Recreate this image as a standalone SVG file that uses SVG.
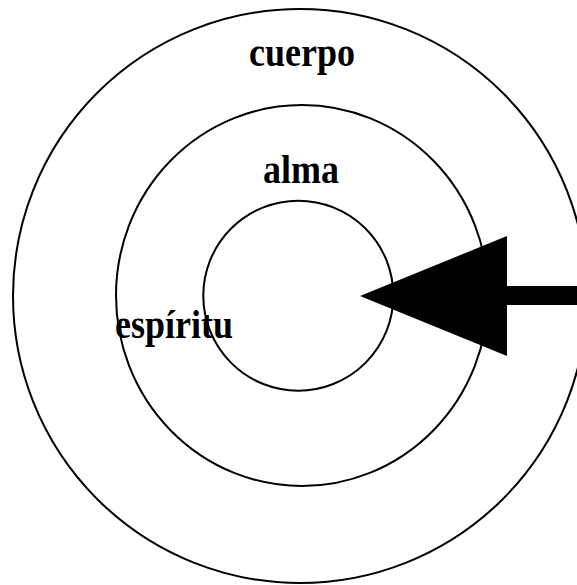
<svg xmlns="http://www.w3.org/2000/svg" width="577" height="585" viewBox="0 0 577 585">
<style>
.ring{fill:none;stroke:#000;stroke-width:2}
.lbl{font-family:"Liberation Serif","Times New Roman",serif;font-weight:bold;font-size:36px;fill:#000}
</style>
<rect width="577" height="585" fill="#fff"/>
<g id="cuerpo">
<circle class="ring" cx="300" cy="296" r="287"/>
<text class="lbl" transform="translate(302,66) scale(1,1.1)" text-anchor="middle">cuerpo</text>
</g>
<g id="alma">
<ellipse class="ring" cx="302" cy="295.5" rx="186" ry="190.5"/>
<text class="lbl" transform="translate(301,183) scale(1,1.1)" text-anchor="middle">alma</text>
</g>
<g id="espiritu">
<circle class="ring" cx="298.3" cy="295.7" r="95"/>
<text class="lbl" transform="translate(115,338) scale(1,1.1)">espíritu</text>
</g>
<g id="connectors">
<rect x="505" y="286" width="72" height="19" fill="#000"/>
<polygon points="360,296 507,236 507,356" fill="#000"/>
</g>
</svg>
